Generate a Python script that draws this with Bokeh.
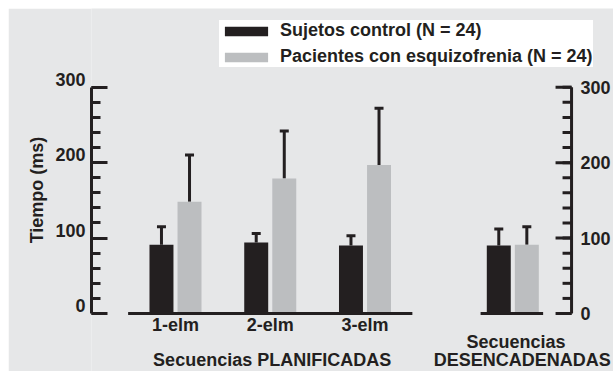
import math
from bokeh.plotting import figure
from bokeh.models import (Range1d, LinearAxis, FixedTicker, Whisker, TeeHead,
                          ColumnDataSource, Legend, LegendItem)
from bokeh.core.properties import value
from bokeh.embed import file_html
from bokeh.resources import INLINE

# ---- data ----
groups = ["1-elm", "2-elm", "3-elm"]
planned_title = "Secuencias PLANIFICADAS"
triggered_title = ["Secuencias", "DESENCADENADAS"]
control_mean = [91, 94, 90, 90]
control_err = [24, 12, 13, 22]
patient_mean = [148, 179, 197, 91]
patient_err = [62, 63, 75, 24]
y_ticks = [0, 100, 200, 300]
y_tick_labels = ["0", "100", "200", "300"]
legend_labels = ["Sujetos control (N = 24)", "Pacientes con esquizofrenia (N = 24)"]
y_title = "Tiempo (ms)"

# ---- style ----
BG = "#e6e7e8"
INK = "#231f20"
GREY = "#bcbec0"
FONT = "Liberation Sans"
FS = "18px"

group_pos = [1, 2, 3, 4.56]
off = 0.148
bw = 0.253
cx = [g - off for g in group_pos]
px = [g + off for g in group_pos]
X0, X1 = 0.1135, 5.6227
Y0, Y1 = -76.9, 404.35
right_x = group_pos[3] + 0.62

p = figure(width=605, height=363, output_backend="svg", toolbar_location=None,
           x_range=Range1d(X0, X1), y_range=Range1d(Y0, Y1),
           min_border_left=83, min_border_right=0, min_border_top=0, min_border_bottom=0,
           background_fill_color=BG, border_fill_color=BG, outline_line_color=None,
           x_axis_location=None, y_axis_location="left")
p.margin = (8, 0, 0, 8)
p.grid.visible = False

src_c = ColumnDataSource(dict(x=cx, top=control_mean,
                              upper=[m + e for m, e in zip(control_mean, control_err)]))
src_p = ColumnDataSource(dict(x=px, top=patient_mean,
                              upper=[m + e for m, e in zip(patient_mean, patient_err)]))

rc = p.vbar(x="x", top="top", bottom=0, width=bw, source=src_c, fill_color=INK, line_color=None)
rp = p.vbar(x="x", top="top", bottom=0, width=bw, source=src_p, fill_color=GREY, line_color=None)

for s in (src_c, src_p):
    w = Whisker(base="x", lower="top", upper="upper", source=s, dimension="height",
                line_color=INK, line_width=3, lower_head=None,
                upper_head=TeeHead(size=9, line_width=3, line_color=INK))
    p.add_layout(w)

# baselines
p.segment(x0=[group_pos[0] - 0.5, group_pos[3] - 0.34], x1=[group_pos[2] + 0.5, group_pos[3] + 0.32],
          y0=[0, 0], y1=[0, 0], line_color=INK, line_width=3)

minor = list(range(0, 301, 20))
text_kw = dict(major_label_text_font=FONT, major_label_text_font_style="bold",
               major_label_text_font_size=FS, major_label_text_color=INK)

# left axis: rule with ticks
ya = p.yaxis[0]
ya.ticker = FixedTicker(ticks=y_ticks, minor_ticks=minor)
ya.bounds = (0, 300)
ya.axis_line_width = 3
ya.axis_line_color = INK
ya.major_tick_in = 16
ya.major_tick_out = 0
ya.minor_tick_in = 9
ya.minor_tick_out = 0
ya.major_tick_line_width = 3
ya.minor_tick_line_width = 3
ya.major_tick_line_color = INK
ya.minor_tick_line_color = INK
ya.major_label_overrides = {t: " " for t in y_ticks}
ya.major_label_standoff = 0

# left tick labels sit a little above their ticks, as in the original
shift = 10.6
lab_pos = [t + shift for t in y_ticks]
la = LinearAxis(ticker=FixedTicker(ticks=lab_pos, minor_ticks=[]),
                bounds=(y_ticks[0] - shift, y_ticks[-1] + shift),
                axis_line_color=None, major_tick_line_color=None, minor_tick_line_color=None,
                major_tick_in=0, major_tick_out=0, minor_tick_in=0, minor_tick_out=0,
                major_label_overrides={lp: s for lp, s in zip(lab_pos, y_tick_labels)},
                major_label_standoff=0,
                axis_label=y_title, axis_label_text_font=FONT, axis_label_text_font_style="bold",
                axis_label_text_font_size=FS, axis_label_text_color=INK, axis_label_standoff=5,
                **text_kw)
p.add_layout(la, "left")

# right axis (drawn inside the plot area so the legend and labels can reach the edge)
p.segment(x0=[right_x], x1=[right_x], y0=[y_ticks[0]], y1=[y_ticks[-1]], line_color=INK, line_width=3)
p.ray(x=[right_x] * len(minor), y=minor, length=9, length_units="screen", angle=math.pi,
      line_color=INK, line_width=3)
p.ray(x=[right_x] * len(y_ticks), y=y_ticks, length=16, length_units="screen", angle=math.pi,
      line_color=INK, line_width=3)

tkw = dict(text_font=value(FONT), text_font_style=value("bold"), text_font_size=value(FS),
           text_color=INK)
p.text(x=[right_x] * len(y_ticks), y=y_ticks, text=y_tick_labels, x_offset=9,
       text_align="left", text_baseline="middle", **tkw)

# category labels and group titles
p.text(x=group_pos[:3], y=[0] * 3, text=groups, y_offset=12,
       text_align="center", text_baseline="middle", **tkw)
planned_x = sum(group_pos[:3]) / 3 + 0.02
p.text(x=[planned_x], y=[0], text=[planned_title], y_offset=47,
       text_align="center", text_baseline="middle", **tkw)
p.text(x=[group_pos[3] + 0.034], y=[0], text=[triggered_title[0]], y_offset=29,
       text_align="center", text_baseline="middle", **tkw)
p.text(x=[group_pos[3] + 0.10], y=[0], text=[triggered_title[1]], y_offset=47,
       text_align="center", text_baseline="middle", **tkw)

legend = Legend(items=[LegendItem(label=legend_labels[0], renderers=[rc]),
                       LegendItem(label=legend_labels[1], renderers=[rp])],
                location=(128, 304), background_fill_color="white", background_fill_alpha=1,
                border_line_color=None, padding=4, spacing=5, margin=0,
                glyph_width=54, glyph_height=12, label_standoff=7,
                label_text_font=FONT, label_text_font_style="bold",
                label_text_font_size=FS, label_text_color=INK)
p.add_layout(legend, "center")

open("out.html", "w").write(file_html(p, INLINE))
